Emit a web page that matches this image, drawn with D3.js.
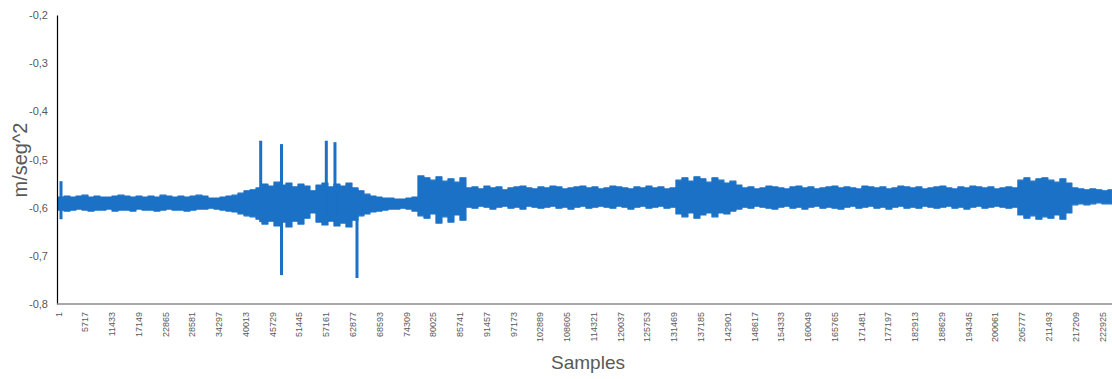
<!DOCTYPE html>
<html>
<head>
<meta charset="utf-8">
<script src="https://cdn.jsdelivr.net/npm/d3@7"></script>
<style>
body { margin: 0; background: #fff; }
#chart { width: 1112px; height: 379px; }
text { font-family: "Liberation Sans", Arial, sans-serif; fill: #595959; }
</style>
</head>
<body>
<div id="chart"></div>
<script>
// samples: total count and label step of the category axis
var totalSamples = 225000;
var labelStep = 5716;
var yTicks = [-0.8, -0.7, -0.6, -0.5, -0.4, -0.3, -0.2];

// envelope of the signal, one bin every binSize samples
var binSize = 1281;
var envHi = [
  -0.578,-0.576,-0.578,-0.576,-0.574,-0.578,-0.576,-0.578,-0.578,-0.576,-0.574,-0.576,-0.578,-0.576,-0.578,-0.576,-0.578,-0.574,-0.576,-0.578,-0.576,-0.578,-0.576,-0.574,-0.576,-0.580,-0.580,-0.578,-0.576,
  -0.574,-0.570,-0.565,-0.563,-0.559,
  -0.551,-0.555,-0.547,-0.553,-0.549,-0.557,-0.551,-0.555,
  -0.565,
  -0.553,-0.549,-0.557,-0.551,-0.555,-0.549,-0.559,
  -0.565,-0.572,-0.576,
  -0.578,-0.580,-0.580,-0.582,-0.582,-0.580,-0.578,
  -0.534,-0.538,-0.543,-0.536,-0.545,-0.540,-0.547,-0.538,
  -0.559,-0.557,-0.561,-0.555,-0.559,-0.557,-0.563,-0.559,-0.557,-0.555,-0.559,-0.561,-0.557,-0.559,-0.555,-0.557,-0.561,-0.559,-0.557,-0.555,-0.559,-0.557,-0.561,-0.559,-0.555,-0.557,-0.559,-0.561,-0.557,-0.559,-0.555,-0.559,-0.557,-0.561,-0.559,
  -0.543,-0.538,-0.545,-0.536,-0.540,-0.547,-0.538,-0.543,-0.549,-0.545,-0.553,
  -0.559,-0.557,-0.561,-0.559,-0.555,-0.557,-0.559,-0.561,-0.557,-0.555,-0.559,-0.557,-0.561,-0.559,-0.557,-0.555,-0.559,-0.557,-0.559,-0.561,-0.555,-0.557,-0.559,-0.557,-0.561,-0.559,-0.555,-0.557,-0.559,-0.557,-0.561,-0.559,-0.557,-0.555,-0.559,-0.561,-0.557,-0.559,-0.555,-0.557,-0.559,-0.557,-0.561,-0.559,-0.557,-0.559,
  -0.543,-0.538,-0.545,-0.540,-0.538,-0.543,-0.547,-0.540,-0.549,
  -0.559,-0.561,-0.563,-0.561,-0.563,-0.565,-0.563
];
var envLo = [
  -0.605,-0.607,-0.605,-0.603,-0.605,-0.607,-0.605,-0.605,-0.603,-0.607,-0.605,-0.605,-0.607,-0.603,-0.605,-0.605,-0.607,-0.605,-0.603,-0.605,-0.605,-0.607,-0.605,-0.603,-0.603,-0.601,-0.603,-0.605,-0.607,
  -0.609,-0.613,-0.617,-0.619,-0.624,
  -0.634,-0.628,-0.638,-0.630,-0.640,-0.628,-0.634,-0.622,
  -0.611,
  -0.630,-0.636,-0.628,-0.638,-0.632,-0.640,-0.626,
  -0.617,-0.613,-0.609,
  -0.607,-0.605,-0.603,-0.603,-0.601,-0.603,-0.607,
  -0.617,-0.622,-0.613,-0.632,-0.619,-0.630,-0.615,-0.626,
  -0.599,-0.601,-0.597,-0.599,-0.603,-0.599,-0.597,-0.601,-0.599,-0.603,-0.597,-0.599,-0.601,-0.599,-0.597,-0.601,-0.599,-0.603,-0.599,-0.597,-0.601,-0.599,-0.597,-0.599,-0.601,-0.597,-0.599,-0.603,-0.599,-0.597,-0.601,-0.599,-0.597,-0.601,-0.599,
  -0.613,-0.619,-0.611,-0.622,-0.615,-0.611,-0.619,-0.611,-0.613,-0.607,-0.603,
  -0.599,-0.601,-0.597,-0.599,-0.601,-0.603,-0.599,-0.597,-0.601,-0.599,-0.603,-0.599,-0.597,-0.601,-0.599,-0.601,-0.603,-0.599,-0.597,-0.601,-0.599,-0.597,-0.601,-0.599,-0.603,-0.599,-0.597,-0.601,-0.599,-0.601,-0.597,-0.599,-0.601,-0.599,-0.597,-0.601,-0.599,-0.603,-0.599,-0.597,-0.601,-0.599,-0.597,-0.599,-0.601,-0.599,
  -0.615,-0.622,-0.617,-0.624,-0.619,-0.622,-0.615,-0.624,-0.611,
  -0.594,-0.592,-0.594,-0.592,-0.590,-0.592,-0.592
];

// isolated spikes
var spikeSample = [642, 43280, 47720, 57290, 59140, 63840];
var spikeHi = [-0.545, -0.461, -0.468, -0.461, -0.464, -0.560];
var spikeLo = [-0.624, -0.630, -0.740, -0.632, -0.628, -0.746];

var chartDiv = document.getElementById("chart");
var width = 1112, height = 379;
var margin = {top: 15, right: 0, bottom: 75, left: 57};

var svg = d3.select(chartDiv).append("svg")
    .attr("width", width)
    .attr("height", height);

var x = d3.scaleLinear()
    .domain([1, totalSamples])
    .range([58, 58 + (totalSamples - 1) * 26.77 / labelStep]);

var y = d3.scaleLinear()
    .domain([-0.8, -0.2])
    .range([height - margin.bottom, margin.top]);

var blue = "#1b71c6";

var bins = envHi.map(function(h, i) {
    return {s: 1 + i * binSize, hi: h, lo: envLo[i]};
});
// close the last bin at the right edge
bins.push({s: totalSamples, hi: envHi[envHi.length - 1], lo: envLo[envLo.length - 1]});

var area = d3.area()
    .curve(d3.curveStepAfter)
    .x(function(d) { return x(d.s); })
    .y0(function(d) { return y(d.lo); })
    .y1(function(d) { return y(d.hi); });

svg.append("path")
    .datum(bins)
    .attr("d", area)
    .attr("fill", blue)
    .attr("stroke", blue)
    .attr("stroke-width", 1.2)
    .attr("stroke-linejoin", "round");

svg.selectAll(".spike")
    .data(spikeSample)
    .enter().append("line")
    .attr("class", "spike")
    .attr("x1", function(d) { return x(d); })
    .attr("x2", function(d) { return x(d); })
    .attr("y1", function(d, i) { return y(spikeHi[i]); })
    .attr("y2", function(d, i) { return y(spikeLo[i]); })
    .attr("stroke", blue)
    .attr("stroke-width", 3);

// y axis
var fmt = function(v) { return d3.format(".1f")(v).replace(".", ",").replace("−", "-"); };
var yAxis = svg.append("g")
    .attr("transform", "translate(" + margin.left + ",0)")
    .call(d3.axisLeft(y).tickValues(yTicks).tickSize(0).tickPadding(9).tickFormat(fmt));
yAxis.select(".domain").attr("stroke", "#000").attr("stroke-width", 1.2);
yAxis.selectAll("text").style("font-size", "11px").attr("fill", "#595959");

// x axis
var xLabels = d3.range(1, totalSamples, labelStep);
var xAxis = svg.append("g")
    .attr("transform", "translate(0," + y(-0.8) + ")")
    .call(d3.axisBottom(x).tickValues(xLabels).tickSize(0).tickFormat(d3.format("d")));
xAxis.select(".domain").attr("stroke", "#8c8c8c").attr("stroke-width", 1.5)
    .attr("d", "M" + margin.left + ",0H" + width);
xAxis.selectAll("text")
    .style("font-size", "9px")
    .attr("fill", "#595959")
    .attr("text-anchor", "end")
    .attr("dy", null)
    .attr("transform", "translate(3,8) rotate(-90)")
    .attr("x", 0).attr("y", 0);

svg.append("text")
    .attr("transform", "translate(27,160) rotate(-90)")
    .attr("text-anchor", "middle")
    .style("font-size", "20px")
    .text("m/seg^2");

svg.append("text")
    .attr("x", 588)
    .attr("y", 369)
    .attr("text-anchor", "middle")
    .style("font-size", "19px")
    .text("Samples");
</script>
</body>
</html>
